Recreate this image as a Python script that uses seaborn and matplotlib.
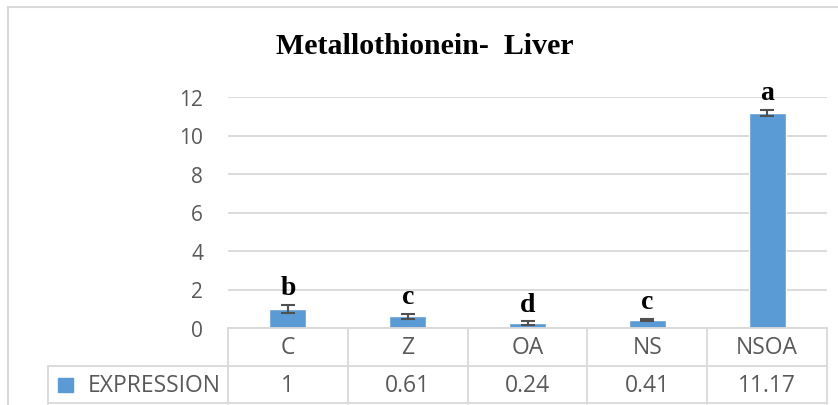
import matplotlib
matplotlib.use('Agg')
import matplotlib.pyplot as plt
import matplotlib.transforms as mtransforms
from matplotlib.patches import Rectangle
import seaborn as sns
import pandas as pd

# data
groups = ['C', 'Z', 'OA', 'NS', 'NSOA']
expression = [1, 0.61, 0.24, 0.41, 11.17]
errors = [0.22, 0.14, 0.1, 0.07, 0.16]
letters = ['b', 'c', 'd', 'c', 'a']
yticks = [0, 2, 4, 6, 8, 10, 12]
series_name = 'EXPRESSION'
title = 'Metallothionein-  Liver'

df = pd.DataFrame({'group': groups, series_name: expression})

sns.set_style('white')
plt.rcParams['font.family'] = ['Open Sans', 'DejaVu Sans']

bar_color = '#5b9bd5'
grid_color = '#d9d9d9'
text_color = '#595959'

W, H = 838, 406
fig = plt.figure(figsize=(W / 100, H / 100), dpi=100)

# chart frame (right and bottom run off the picture)
fig.patches.append(Rectangle((8 / W, -0.1), 1.0, 1 - 8 / H + 0.1, transform=fig.transFigure,
                             fill=False, ec=grid_color, lw=1.5))

ax = fig.add_axes([228 / W, 1 - 329 / H, 599 / W, 231 / H])
sns.barplot(data=df, x='group', y=series_name, color=bar_color, saturation=1,
            width=0.31, errorbar=None, ax=ax)

xs = [p.get_x() + p.get_width() / 2 for p in ax.patches]
ax.errorbar(xs, expression, yerr=errors, fmt='none', ecolor='#505050',
            elinewidth=1.5, capsize=5, capthick=1.5, zorder=3)

for x, v, e, lab in zip(xs, expression, errors, letters):
    ax.annotate(lab, (x, v + e), xytext=(0, 3.5), textcoords='offset points',
                ha='center', va='bottom', fontsize=20, fontweight='bold',
                family='Liberation Serif', color='black', annotation_clip=False)

ax.set_xlim(-0.5, len(groups) - 0.5)
ax.set_ylim(0, 12)
ax.set_yticks(yticks)
ax.set_xticks([])
ax.set_xlabel('')
ax.set_ylabel('')
ax.yaxis.grid(True, color=grid_color, lw=1.3)
ax.set_axisbelow(True)
ax.tick_params(axis='y', length=0, pad=18, labelsize=15, labelcolor=text_color)
sns.despine(ax=ax, left=True, bottom=True, top=True, right=True)

# data table under the axis
row_h = 38 / 231
leg_left = (48 - 228) / 599
ncol = len(groups)
line_kw = dict(transform=ax.transAxes, clip_on=False, color=grid_color, lw=1.3)
ax.plot([0, 1], [0, 0], **line_kw)
ax.plot([leg_left, 1], [-row_h, -row_h], **line_kw)
ax.plot([leg_left, 1], [-2 * row_h + 0.004, -2 * row_h + 0.004], **line_kw)
for i in range(ncol + 1):
    ax.plot([i / ncol, i / ncol], [0, -2 * row_h], **line_kw)
ax.plot([leg_left, leg_left], [-row_h, -2 * row_h], **line_kw)

blend = mtransforms.blended_transform_factory(ax.transData, ax.transAxes)
for x, g, v in zip(xs, groups, expression):
    ax.text(x, -row_h / 2, g, transform=blend, ha='center', va='center',
            fontsize=16.5, color=text_color)
    ax.text(x, -1.5 * row_h, f'{v:g}', transform=blend, ha='center', va='center',
            fontsize=16.5, color=text_color)

ax.add_patch(Rectangle(((58 - 228) / 599, -(393 - 329) / 231), 15 / 599, 14 / 231,
                       transform=ax.transAxes, clip_on=False, color=bar_color))
ax.text((221 - 228) / 599, -1.5 * row_h, series_name, transform=ax.transAxes,
        ha='right', va='center', fontsize=16.5, color=text_color)

fig.text(425 / W, 1 - 47 / H, title, ha='center', va='center', fontsize=21.5,
         fontweight='bold', family='Liberation Serif', color='black')

fig.savefig('out.png', dpi=100)
